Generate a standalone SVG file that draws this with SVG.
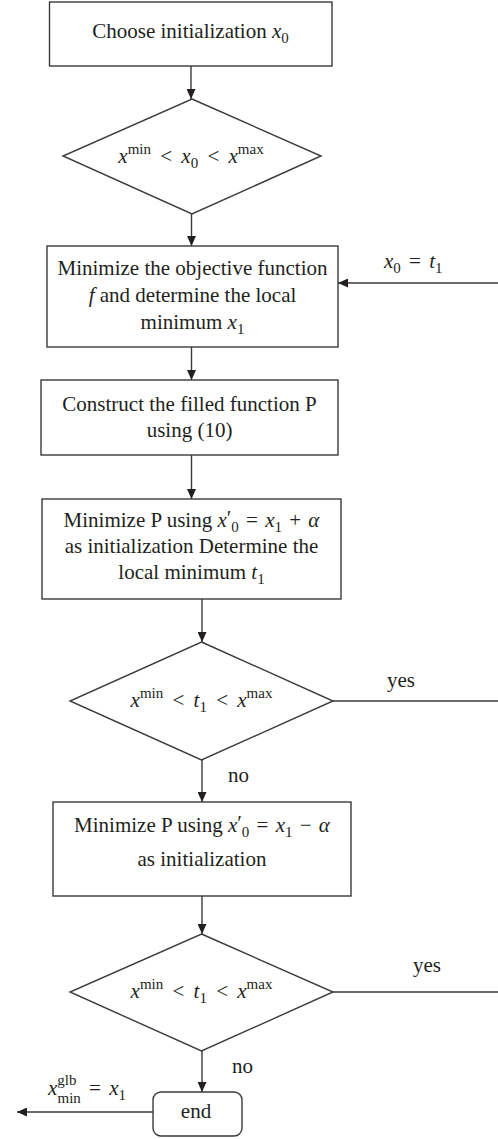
<svg xmlns="http://www.w3.org/2000/svg" width="498" height="1139" viewBox="0 0 498 1139">
<style>
.n{fill:#fff;stroke:#3a3a3a;stroke-width:1.4}
.t{font-family:"Liberation Serif","Times New Roman",serif;font-size:21px;fill:#231f20}
.i{font-style:italic}
.s{font-size:15px}
.c{stroke:#3a3a3a;stroke-width:1.4;fill:none}
</style>
<defs>
<marker id="ah" viewBox="0 0 10 9" refX="10" refY="4.5" markerWidth="10" markerHeight="9" markerUnits="userSpaceOnUse" orient="auto">
<path d="M0,0 L10,4.5 L0,9 z" fill="#231f20"/>
</marker>
</defs>
<rect width="498" height="1139" fill="#fff"/>
<g id="connectors">
<line class="c" x1="191" y1="66" x2="191" y2="99" marker-end="url(#ah)"/>
<line class="c" x1="191.5" y1="214" x2="191.5" y2="246" marker-end="url(#ah)"/>
<line class="c" x1="191.5" y1="347" x2="191.5" y2="380" marker-end="url(#ah)"/>
<line class="c" x1="191.5" y1="455" x2="191.5" y2="499" marker-end="url(#ah)"/>
<line class="c" x1="202" y1="599" x2="202" y2="642" marker-end="url(#ah)"/>
<line class="c" x1="202" y1="760" x2="202" y2="802" marker-end="url(#ah)"/>
<line class="c" x1="202" y1="896" x2="202" y2="934" marker-end="url(#ah)"/>
<line class="c" x1="202" y1="1051" x2="202" y2="1092" marker-end="url(#ah)"/>
<line class="c" x1="153" y1="1112" x2="17" y2="1112" marker-end="url(#ah)"/>
<line class="c" x1="498" y1="283" x2="338" y2="283" marker-end="url(#ah)"/>
<line class="c" x1="333" y1="701" x2="498" y2="701"/>
<line class="c" x1="333" y1="992" x2="498" y2="992"/>
<text class="t" x="384" y="268"><tspan class="i">x</tspan><tspan class="s" dy="5">0</tspan><tspan dx="3" dy="-5"> = </tspan><tspan class="i" dx="3">t</tspan><tspan class="s" dy="5">1</tspan></text>
<text class="t" x="387" y="687">yes</text>
<text class="t" x="413" y="972">yes</text>
<text class="t" x="228" y="782">no</text>
<text class="t" x="232" y="1073">no</text>
<text class="t" x="48" y="1095"><tspan class="i">x</tspan><tspan class="s" dy="-10">glb</tspan><tspan class="s" dx="-19" dy="18">min</tspan><tspan dx="3" dy="-8"> = </tspan><tspan class="i" dx="3">x</tspan><tspan class="s" dy="5">1</tspan></text>
</g>
<g id="start">
<rect class="n" x="49.5" y="2" width="282.5" height="64"/>
<text class="t" x="190.5" y="38" text-anchor="middle">Choose initialization <tspan class="i">x</tspan><tspan class="s" dy="5">0</tspan></text>
</g>
<g id="check1">
<polygon class="n" points="192,99 321,156 192,214 63,156"/>
<text class="t" x="191" y="163" text-anchor="middle"><tspan class="i">x</tspan><tspan class="s" dy="-9">min</tspan><tspan dx="4" dy="9"> &lt; </tspan><tspan class="i" dx="4">x</tspan><tspan class="s" dy="5">0</tspan><tspan dx="4" dy="-5"> &lt; </tspan><tspan class="i" dx="4">x</tspan><tspan class="s" dy="-9">max</tspan></text>
</g>
<g id="minimize-f">
<rect class="n" x="47" y="246" width="291" height="101"/>
<text class="t" x="192.5" y="275" text-anchor="middle">Minimize the objective function</text>
<text class="t" x="192.5" y="302" text-anchor="middle"><tspan class="i">f</tspan> and determine the local</text>
<text class="t" x="192.5" y="329" text-anchor="middle">minimum <tspan class="i">x</tspan><tspan class="s" dy="5">1</tspan></text>
</g>
<g id="construct">
<rect class="n" x="41" y="380" width="297" height="75"/>
<text class="t" x="189.5" y="411" text-anchor="middle">Construct the filled function P</text>
<text class="t" x="189.5" y="437" text-anchor="middle">using (10)</text>
</g>
<g id="minimize-p-plus">
<rect class="n" x="42" y="499" width="299" height="100"/>
<text class="t" x="191.5" y="527" text-anchor="middle">Minimize P using <tspan class="i">x</tspan><tspan dy="-2">′</tspan><tspan class="s" dy="7">0</tspan><tspan dx="2" dy="-5"> = </tspan><tspan class="i" dx="2">x</tspan><tspan class="s" dy="5">1</tspan><tspan dx="2" dy="-5"> + </tspan><tspan class="i" dx="2">α</tspan></text>
<text class="t" x="191.5" y="553" text-anchor="middle">as initialization Determine the</text>
<text class="t" x="191.5" y="579" text-anchor="middle">local minimum <tspan class="i">t</tspan><tspan class="s" dy="5">1</tspan></text>
</g>
<g id="check2">
<polygon class="n" points="201.5,642 333,701 201.5,760 70,701"/>
<text class="t" x="201.5" y="707" text-anchor="middle"><tspan class="i">x</tspan><tspan class="s" dy="-9">min</tspan><tspan dx="4" dy="9"> &lt; </tspan><tspan class="i" dx="4">t</tspan><tspan class="s" dy="5">1</tspan><tspan dx="4" dy="-5"> &lt; </tspan><tspan class="i" dx="4">x</tspan><tspan class="s" dy="-9">max</tspan></text>
</g>
<g id="minimize-p-minus">
<rect class="n" x="53" y="802" width="298" height="94"/>
<text class="t" x="202" y="832" text-anchor="middle">Minimize P using <tspan class="i">x</tspan><tspan dy="-2">′</tspan><tspan class="s" dy="7">0</tspan><tspan dx="2" dy="-5"> = </tspan><tspan class="i" dx="2">x</tspan><tspan class="s" dy="5">1</tspan><tspan dx="2" dy="-5"> − </tspan><tspan class="i" dx="2">α</tspan></text>
<text class="t" x="202" y="866" text-anchor="middle">as initialization</text>
</g>
<g id="check3">
<polygon class="n" points="201.5,934 333,992 201.5,1051 70,992"/>
<text class="t" x="201.5" y="998" text-anchor="middle"><tspan class="i">x</tspan><tspan class="s" dy="-9">min</tspan><tspan dx="4" dy="9"> &lt; </tspan><tspan class="i" dx="4">t</tspan><tspan class="s" dy="5">1</tspan><tspan dx="4" dy="-5"> &lt; </tspan><tspan class="i" dx="4">x</tspan><tspan class="s" dy="-9">max</tspan></text>
</g>
<g id="end">
<rect class="n" x="153" y="1092" width="89" height="44" rx="8" ry="8"/>
<text class="t" x="196" y="1118" text-anchor="middle">end</text>
</g>
</svg>
